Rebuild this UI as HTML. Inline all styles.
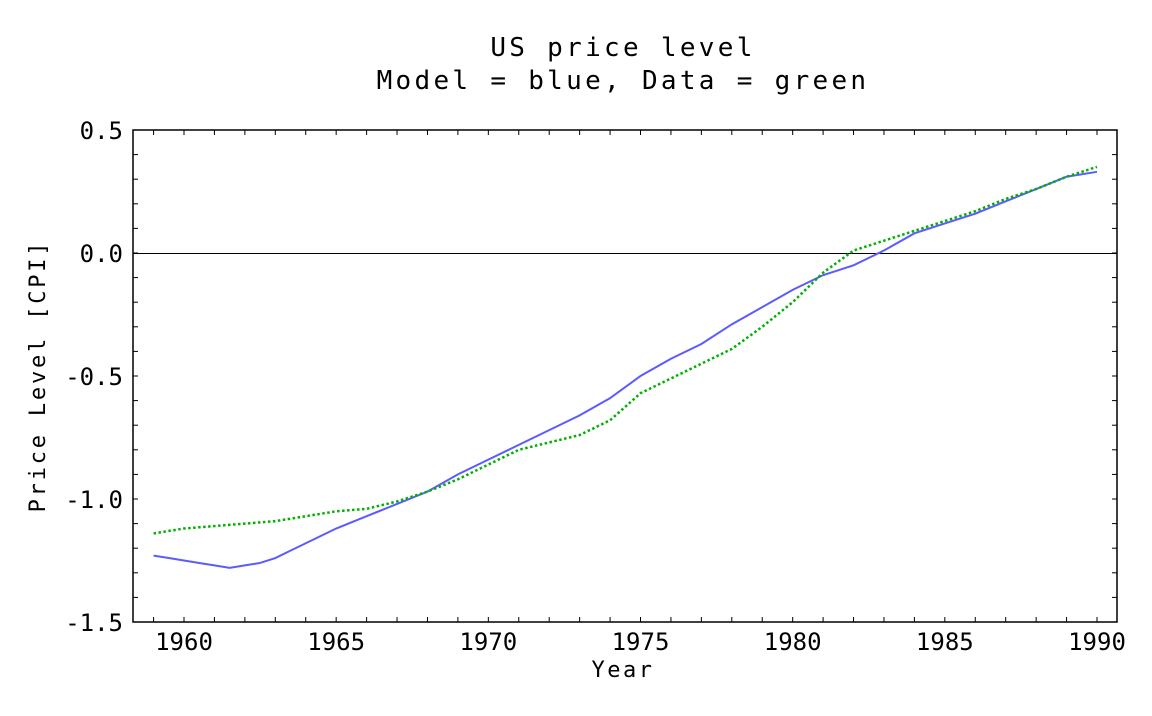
<!DOCTYPE html>
<html><head><meta charset="utf-8"><style>
body{margin:0;background:#fff}
svg text{font-family:"DejaVu Sans Mono","Liberation Mono",monospace;fill:#000}
</style></head><body>
<svg width="1152" height="711">
<text x="623" y="56" font-size="26" letter-spacing="3.3" text-anchor="middle">US price level</text>
<text x="623" y="89" font-size="26" letter-spacing="3.3" text-anchor="middle">Model = blue, Data = green</text>
<text x="623" y="677" font-size="22" letter-spacing="2.5" text-anchor="middle">Year</text>
<text transform="translate(45,376) rotate(-90)" font-size="22" letter-spacing="2.8" text-anchor="middle">Price Level [CPI]</text>
</svg>
<script>
const years=[1959,1960,1961,1962,1963,1964,1965,1966,1967,1968,1969,1970,1971,1972,1973,1974,1975,1976,1977,1978,1979,1980,1981,1982,1983,1984,1985,1986,1987,1988,1989,1990];
const dataVals=[-1.14,-1.12,-1.11,-1.10,-1.09,-1.07,-1.05,-1.04,-1.01,-0.97,-0.92,-0.86,-0.80,-0.77,-0.74,-0.68,-0.57,-0.51,-0.45,-0.39,-0.30,-0.20,-0.08,0.01,0.05,0.09,0.13,0.17,0.22,0.26,0.31,0.35];
const modelYears=[1959,1959.5,1960,1960.5,1961,1961.5,1962,1962.5,1963,1963.5,1964,1964.5,1965,1966,1967,1968,1969,1970,1971,1972,1973,1974,1975,1976,1977,1978,1979,1980,1981,1982,1983,1984,1985,1986,1987,1988,1989,1990];
const modelVals=[-1.23,-1.24,-1.25,-1.26,-1.27,-1.28,-1.27,-1.26,-1.24,-1.21,-1.18,-1.15,-1.12,-1.07,-1.02,-0.97,-0.90,-0.84,-0.78,-0.72,-0.66,-0.59,-0.50,-0.43,-0.37,-0.29,-0.22,-0.15,-0.09,-0.05,0.01,0.08,0.12,0.16,0.21,0.26,0.31,0.33];
const xTicks=[1960,1965,1970,1975,1980,1985,1990];
const yTicks=[0.5,0.0,-0.5,-1.0,-1.5];
const yLabels=["0.5","0.0","-0.5","-1.0","-1.5"];
const L=133,R=1117,T=130,B=622;
const X=y=>184+(y-1960)*(1097-184)/30;
const Y=v=>253-v*246;
const svg=document.querySelector('svg'),NS='http://www.w3.org/2000/svg';
function mk(t,a,p){const e=document.createElementNS(NS,t);for(const k in a)e.setAttribute(k,a[k]);(p||svg).appendChild(e);return e;}
const fr=mk('rect',{x:L,y:T,width:R-L,height:B-T,fill:'none',stroke:'#000','stroke-width':1.5});


const zl=mk('line',{x1:L,x2:R,y1:Y(0)+0.5,y2:Y(0)+0.5,stroke:'#000','stroke-width':1,'shape-rendering':'crispEdges'});


for(let y=1959;y<=1990;y++){const x=X(y);mk('line',{x1:x,x2:x,y1:B,y2:B-5,stroke:'#000'});mk('line',{x1:x,x2:x,y1:T,y2:T+5,stroke:'#000'});}
for(let i=-15;i<=5;i++){const v=i/10,y=Y(v);mk('line',{x1:L,x2:L+5,y1:y,y2:y,stroke:'#000'});mk('line',{x1:R,x2:R-5,y1:y,y2:y,stroke:'#000'});}
xTicks.forEach(t=>{const e=mk('text',{x:X(t),y:B+28,'font-size':24,'text-anchor':'middle'});e.textContent=t;

});
yTicks.forEach((t,i)=>{const e=mk('text',{x:L-10,y:Y(t)+9,'font-size':24,'text-anchor':'end'});e.textContent=yLabels[i];

});
const mp=mk('polyline',{points:modelYears.map((y,i)=>X(y)+','+Y(modelVals[i])).join(' '),fill:'none',stroke:'#5b5bff','stroke-width':2});


const dp=mk('polyline',{points:years.map((y,i)=>X(y)+','+Y(dataVals[i])).join(' '),fill:'none',stroke:'#00b000','stroke-width':2.5,'stroke-dasharray':'2.5 2.5'});


</script>
</body></html>
